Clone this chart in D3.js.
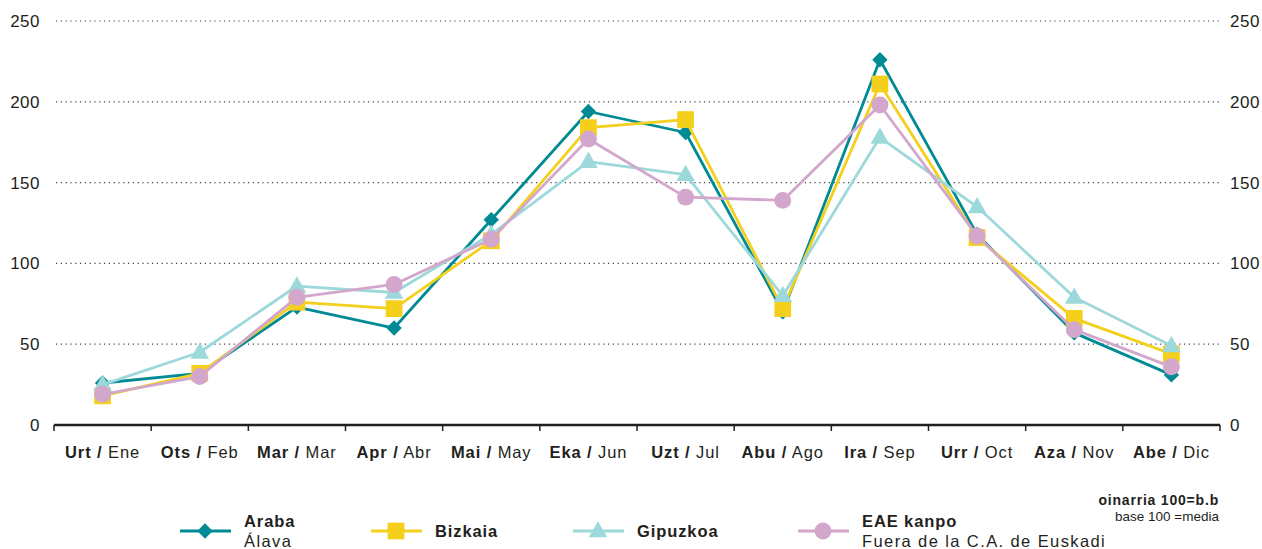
<!DOCTYPE html>
<html>
<head>
<meta charset="utf-8">
<script src="https://cdn.jsdelivr.net/npm/d3@7"></script>
<style>
  body { margin: 0; background: #fff; }
  svg { display: block; font-family: "Liberation Sans", Arial, sans-serif; }
</style>
</head>
<body>
<div class="Canvas"></div>
<script>
// Month labels: basque (bold) / spanish
const monthsEu = ['Urt', 'Ots', 'Mar', 'Apr', 'Mai', 'Eka', 'Uzt', 'Abu', 'Ira', 'Urr', 'Aza', 'Abe'];
const monthsEs = ['Ene', 'Feb', 'Mar', 'Abr', 'May', 'Jun', 'Jul', 'Ago', 'Sep', 'Oct', 'Nov', 'Dic'];

// Series values (base 100 = media)
const araba    = [26, 32, 73, 60, 127, 194, 181, 70, 226, 118, 57, 31];
const bizkaia  = [18, 32, 76, 72, 114, 184, 189, 72, 211, 116, 66, 44];
const gipuzkoa = [25, 45, 86, 82, 118, 163, 155, 80, 178, 135, 79, 49];
const eaeKanpo = [19, 30, 79, 87, 115, 177, 141, 139, 198, 117, 59, 36];

const yTicks = [0, 50, 100, 150, 200, 250];

const width = 1262, height = 549;
const plotLeft = 54, plotRight = 1220, plotTop = 21, plotBottom = 425;
const textColor = '#231f20';

const series = [
  { name: 'Araba', sub: 'Álava', values: araba, color: '#008b94', shape: 'diamond' },
  { name: 'Bizkaia', sub: '', values: bizkaia, color: '#f4cf1c', shape: 'square' },
  { name: 'Gipuzkoa', sub: '', values: gipuzkoa, color: '#9dd8da', shape: 'triangle' },
  { name: 'EAE kanpo', sub: 'Fuera de la C.A. de Euskadi', values: eaeKanpo, color: '#d3a6cc', shape: 'circle' },
];

const svg = d3.select('.Canvas').append('svg').attr('width', width).attr('height', height);

const x = d3.scaleBand().domain(monthsEu).range([plotLeft, plotRight]);
const y = d3.scaleLinear().domain([0, 250]).range([plotBottom, plotTop]);

// dotted grid lines
svg.append('g')
  .selectAll('line')
  .data(yTicks.filter((d) => d > 0))
  .enter()
  .append('line')
  .attr('x1', plotLeft + 2)
  .attr('x2', plotRight)
  .attr('y1', (d) => y(d))
  .attr('y2', (d) => y(d))
  .attr('stroke', '#444')
  .attr('stroke-width', 1.2)
  .attr('stroke-dasharray', '1.2,3.6');

// y labels on both sides
const yLabels = svg.append('g').attr('font-size', '17px').attr('letter-spacing', '0.5px').attr('fill', textColor);
yLabels.selectAll('text.l').data(yTicks).enter().append('text')
  .attr('class', 'l')
  .attr('x', 40).attr('y', (d) => y(d) + 6)
  .attr('text-anchor', 'end')
  .text((d) => d);
yLabels.selectAll('text.r').data(yTicks).enter().append('text')
  .attr('class', 'r')
  .attr('x', 1230).attr('y', (d) => y(d) + 6)
  .attr('text-anchor', 'start')
  .text((d) => d);

// x axis with ticks at the category boundaries
const xAxis = svg.append('g').attr('transform', `translate(0,${plotBottom})`);
xAxis.append('line')
  .attr('x1', plotLeft).attr('x2', plotRight)
  .attr('stroke', '#231f20').attr('stroke-width', 2.5);
const bounds = monthsEu.map((m) => x(m)).concat([plotRight]);
xAxis.selectAll('line.tick').data(bounds).enter().append('line')
  .attr('class', 'tick')
  .attr('x1', (d) => d).attr('x2', (d) => d)
  .attr('y1', 0).attr('y2', 6)
  .attr('stroke', '#231f20').attr('stroke-width', 1.5);

const xLab = xAxis.selectAll('text').data(monthsEu).enter().append('text')
  .attr('x', (d) => x(d) + x.bandwidth() / 2)
  .attr('y', 33)
  .attr('text-anchor', 'middle')
  .attr('font-size', '16.5px')
  .attr('letter-spacing', '0.9px')
  .attr('fill', textColor);
xLab.append('tspan').attr('font-weight', 'bold').text((d) => d + ' /');
xLab.append('tspan').text((d, i) => ' ' + monthsEs[i]);

// marker shapes
const symbolFor = (shape) => {
  if (shape === 'diamond') return d3.symbol().type(d3.symbolDiamond2).size(150)();
  if (shape === 'square') return d3.symbol().type(d3.symbolSquare).size(280)();
  if (shape === 'triangle') return d3.symbol().type(d3.symbolTriangle).size(150)();
  return d3.symbol().type(d3.symbolCircle).size(225)();
};

const line = d3.line()
  .x((d, i) => x(monthsEu[i]) + x.bandwidth() / 2)
  .y((d) => y(d));

series.forEach((s) => {
  const g = svg.append('g');
  g.append('path')
    .attr('d', line(s.values))
    .attr('fill', 'none')
    .attr('stroke', s.color)
    .attr('stroke-width', 2.8)
    .attr('stroke-linejoin', 'round');
  g.selectAll('path.m').data(s.values).enter().append('path')
    .attr('class', 'm')
    .attr('d', symbolFor(s.shape))
    .attr('fill', s.color)
    .attr('transform', (d, i) => `translate(${x(monthsEu[i]) + x.bandwidth() / 2},${y(d) + (s.shape === 'triangle' ? 1 : 0)})`);
});

// legend
const legendX = [180, 371, 573, 798];
const legendY = 531;
series.forEach((s, i) => {
  const g = svg.append('g').attr('transform', `translate(${legendX[i]},${legendY})`);
  g.append('line').attr('x1', 0).attr('x2', 51)
    .attr('stroke', s.color).attr('stroke-width', 2.8);
  g.append('path').attr('d', symbolFor(s.shape)).attr('fill', s.color)
    .attr('transform', `translate(25,${s.shape === 'triangle' ? 1 : 0})`);
  const tx = 64;
  if (s.sub) {
    g.append('text').attr('x', tx).attr('y', -4)
      .attr('font-size', '16.5px').attr('letter-spacing', '0.9px')
      .attr('font-weight', 'bold').attr('fill', textColor).text(s.name);
    g.append('text').attr('x', tx).attr('y', 16)
      .attr('font-size', '16.5px').attr('letter-spacing', '1.4px')
      .attr('fill', textColor).text(s.sub);
  } else {
    g.append('text').attr('x', tx).attr('y', 6)
      .attr('font-size', '16.5px').attr('letter-spacing', '0.9px')
      .attr('font-weight', 'bold').attr('fill', textColor).text(s.name);
  }
});

// base note
svg.append('text').attr('x', 1219).attr('y', 505).attr('text-anchor', 'end')
  .attr('font-size', '14px').attr('letter-spacing', '0.8px')
  .attr('font-weight', 'bold').attr('fill', textColor)
  .text('oinarria 100=b.b');
svg.append('text').attr('x', 1219).attr('y', 521).attr('text-anchor', 'end')
  .attr('font-size', '13.5px').attr('fill', textColor)
  .text('base 100 =media');
</script>
</body>
</html>
